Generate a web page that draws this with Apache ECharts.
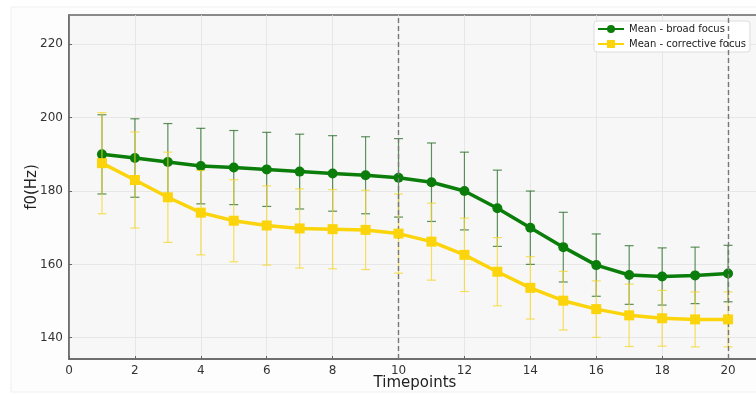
<!DOCTYPE html>
<html>
<head>
<meta charset="utf-8">
<script src="https://cdn.jsdelivr.net/npm/echarts@6/dist/echarts.min.js"></script>
<style>html,body{margin:0;padding:0;background:#fff;}#c{width:756px;height:394px;}</style>
</head>
<body>
<div id="c"></div>
<script>
const timepoints = [1,2,3,4,5,6,7,8,9,10,11,12,13,14,15,16,17,18,19,20];
const broadMean = [190.0,189.0,187.9,186.8,186.4,185.9,185.3,184.8,184.3,183.6,182.4,180.0,175.3,170.0,164.7,159.8,157.1,156.7,157.0,157.5];
const broadErr  = [10.8,10.7,10.5,10.3,10.1,10.1,10.2,10.3,10.5,10.7,10.7,10.6,10.4,10.0,9.5,8.5,8.0,7.8,7.7,7.7];
const corrMean  = [187.6,183.0,178.3,174.1,171.9,170.6,169.8,169.6,169.4,168.4,166.2,162.6,158.0,153.6,150.1,147.8,146.1,145.3,145.0,145.0];
const corrErr   = [13.8,13.1,12.3,11.5,11.2,10.8,10.8,10.8,10.8,10.8,10.5,10.0,9.3,8.5,8.0,7.7,8.5,7.6,7.5,7.5];
const yTicks = [140,160,180,200,220];
const xTickStep = 2;
const dashedAt = [10,20];

const FONT = 'DejaVu Sans';
function errData(mean, err){ return timepoints.map((t,i)=>[t, mean[i]-err[i], mean[i]+err[i]]); }
function errSeries(name, mean, err, color, z){
  return {
    type:'custom', name:name+'_err', z:z, silent:true,
    data: errData(mean, err),
    renderItem:function(params, api){
      const x = api.value(0), lo = api.value(1), hi = api.value(2);
      const p1 = api.coord([x, lo]), p2 = api.coord([x, hi]);
      const cw = 4.5;
      const st = {stroke:color, lineWidth:1.2};
      return {type:'group', children:[
        {type:'line', shape:{x1:p1[0],y1:p1[1],x2:p2[0],y2:p2[1]}, style:st},
        {type:'line', shape:{x1:p1[0]-cw,y1:p1[1],x2:p1[0]+cw,y2:p1[1]}, style:st},
        {type:'line', shape:{x1:p2[0]-cw,y1:p2[1],x2:p2[0]+cw,y2:p2[1]}, style:st}
      ]};
    }
  };
}

const chart = echarts.init(document.getElementById('c'), null, {renderer:'canvas'});
chart.setOption({
  animation:false,
  backgroundColor:'#ffffff',
  graphic:[{type:'rect', shape:{x:11,y:7,width:750,height:385}, style:{fill:'#fdfdfd', stroke:'#efefef', lineWidth:1}, z:-10}],
  grid:{left:69, top:15, right:-5, bottom:35, outerBoundsMode:'none', containLabel:false, show:true, backgroundColor:'#f7f7f7', borderColor:'#666', borderWidth:1.5},
  legend:{
    left:594, top:21, orient:'vertical', itemGap:5, itemWidth:26, itemHeight:10,
    backgroundColor:'#ffffff', borderColor:'#dddddd', borderWidth:1, borderRadius:3, padding:[3,4,3,3],
    textStyle:{fontFamily:FONT, fontSize:10, color:'#222'},
    data:['Mean - broad focus','Mean - corrective focus']
  },
  xAxis:{
    type:'value', min:0, max:21, interval:xTickStep,
    name:'Timepoints', nameLocation:'middle', nameGap:17, nameMoveOverlap:false,
    nameTextStyle:{fontFamily:FONT, fontSize:15, color:'#222'},
    axisLine:{lineStyle:{color:'#666', width:1.5}},
    axisTick:{inside:true, length:3, lineStyle:{color:'#666'}},
    axisLabel:{fontFamily:FONT, fontSize:12, color:'#333', margin:6, formatter:v=> v>20?'':String(v)},
    splitLine:{show:true, lineStyle:{color:'#e2e2e2', width:0.8}}
  },
  yAxis:{
    type:'value', min:134.2, max:228,
    name:'f0(Hz)', nameLocation:'middle', nameGap:29, nameMoveOverlap:false,
    nameTextStyle:{fontFamily:FONT, fontSize:15, color:'#222'},
    axisLine:{show:true, lineStyle:{color:'#666', width:1.5}},
    axisTick:{show:true, inside:true, length:3, customValues:yTicks, lineStyle:{color:'#666'}},
    axisLabel:{fontFamily:FONT, fontSize:12, color:'#333', margin:6, customValues:yTicks},
    splitLine:{show:true, lineStyle:{color:'#e2e2e2', width:0.8}}
  },
  series:[
    errSeries('broad', broadMean, broadErr, 'rgba(40,110,40,0.75)', 2),
    {
      type:'line', name:'Mean - broad focus', z:3,
      data: timepoints.map((t,i)=>[t, broadMean[i]]),
      symbol:'circle', symbolSize:10, showSymbol:true,
      lineStyle:{color:'#0a7d0a', width:3.5}, itemStyle:{color:'#0a7d0a'},
      markLine:{silent:true, symbol:['none','none'], label:{show:false},
        lineStyle:{color:'#777', type:[5,3], width:1.4},
        data: dashedAt.map(v=>({xAxis:v}))}
    },
    errSeries('corr', corrMean, corrErr, 'rgba(245,215,40,0.75)', 4),
    {
      type:'line', name:'Mean - corrective focus', z:5,
      data: timepoints.map((t,i)=>[t, corrMean[i]]),
      symbol:'rect', symbolSize:10, showSymbol:true,
      lineStyle:{color:'#fbd40b', width:3.5}, itemStyle:{color:'#fbd40b'}
    }
  ]
});
</script>
</body>
</html>
